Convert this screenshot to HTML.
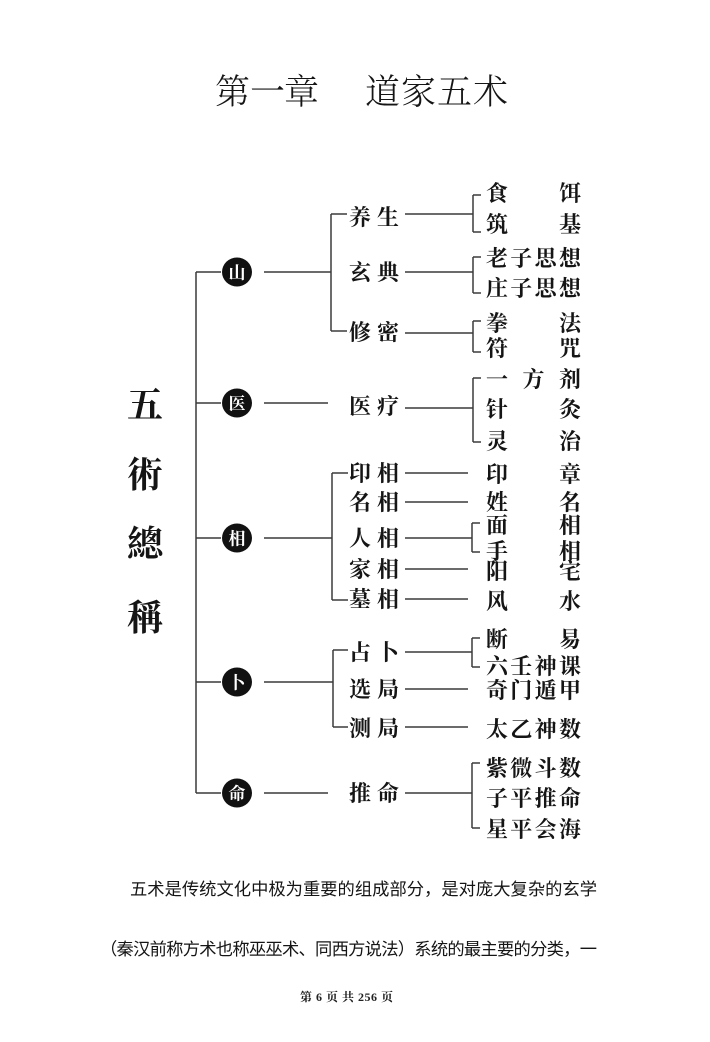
<!DOCTYPE html>
<html><head><meta charset="utf-8"><style>
html,body{margin:0;padding:0;background:#fff;}
svg{display:block;}
.t{font-family:"Liberation Serif","Noto Serif CJK SC",serif;fill:#151515;}
.title{font-size:35px;font-weight:300;}
.big{font-size:36px;font-weight:bold;}
.mid{font-size:22px;font-weight:bold;}
.rt{font-size:22px;font-weight:bold;}
.cir{font-size:17px;font-weight:bold;fill:#fff;}
.p{font-family:"Liberation Sans","Noto Sans CJK SC",sans-serif;font-size:17.3px;fill:#151515;}
.f{font-family:"Liberation Serif","Noto Serif CJK SC",serif;font-size:12px;font-weight:bold;fill:#222;}
line{stroke:#3a3a3a;stroke-width:1.5;}
</style></head><body>
<svg width="710" height="1042" viewBox="0 0 710 1042" xmlns="http://www.w3.org/2000/svg">
<rect width="710" height="1042" fill="#fff"/>
<!-- title -->
<g class="t title">
<text x="215" y="104">第</text><text x="250" y="104">一</text><text x="284" y="104">章</text>
<text x="365" y="104">道</text><text x="401" y="104">家</text><text x="437" y="104">五</text><text x="473" y="104">术</text>
</g>
<!-- left column -->
<g class="t big">
<text x="127" y="417">五</text><text x="127" y="487">術</text><text x="127" y="556">總</text><text x="127" y="630">稱</text>
</g>
<!-- main spine -->
<line x1="196" y1="272" x2="196" y2="793"/>
<line x1="196" y1="272" x2="221" y2="272"/>
<line x1="196" y1="403" x2="221" y2="403"/>
<line x1="196" y1="538" x2="221" y2="538"/>
<line x1="196" y1="682" x2="221" y2="682"/>
<line x1="196" y1="793" x2="221" y2="793"/>
<!-- circles -->
<g fill="#111">
<ellipse cx="237" cy="272" rx="15" ry="14.5"/>
<ellipse cx="237" cy="403" rx="15" ry="14.5"/>
<ellipse cx="237" cy="538" rx="15" ry="14.5"/>
<ellipse cx="237" cy="682" rx="15" ry="14.5"/>
<ellipse cx="237" cy="793" rx="15" ry="14.5"/>
</g>
<g class="t cir" text-anchor="middle">
<text x="237" y="278.5">山</text><text x="237" y="409.5">医</text><text x="237" y="544.5">相</text><text x="237" y="688.5">卜</text><text x="237" y="799.5">命</text>
</g>
<!-- circle to brackets -->
<line x1="264" y1="272" x2="331" y2="272"/>
<line x1="264" y1="403" x2="328" y2="403"/>
<line x1="264" y1="538" x2="332" y2="538"/>
<line x1="264" y1="682" x2="333" y2="682"/>
<line x1="264" y1="793" x2="328" y2="793"/>
<!-- mid brackets -->
<line x1="331" y1="214" x2="331" y2="331"/>
<line x1="331" y1="214" x2="347" y2="214"/>
<line x1="331" y1="331" x2="347" y2="331"/>
<line x1="332" y1="473" x2="332" y2="600"/>
<line x1="332" y1="473" x2="348" y2="473"/>
<line x1="332" y1="600" x2="348" y2="600"/>
<line x1="333" y1="650" x2="333" y2="727"/>
<line x1="333" y1="650" x2="348" y2="650"/>
<line x1="333" y1="727" x2="348" y2="727"/>
<!-- mid labels -->
<g class="t mid">
<text x="349" y="225">养</text><text x="377" y="225">生</text>
<text x="349" y="280">玄</text><text x="377" y="280">典</text>
<text x="349" y="340">修</text><text x="377" y="340">密</text>
<text x="349" y="414">医</text><text x="377" y="414">疗</text>
<text x="349" y="481">印</text><text x="377" y="481">相</text>
<text x="349" y="510">名</text><text x="377" y="510">相</text>
<text x="349" y="546">人</text><text x="377" y="546">相</text>
<text x="349" y="577">家</text><text x="377" y="577">相</text>
<text x="349" y="607">墓</text><text x="377" y="607">相</text>
<text x="349" y="660">占</text><text x="377" y="660">卜</text>
<text x="349" y="697">选</text><text x="377" y="697">局</text>
<text x="349" y="736">测</text><text x="377" y="736">局</text>
<text x="349" y="801">推</text><text x="377" y="801">命</text>
</g>
<!-- label to right lines -->
<line x1="405" y1="214" x2="473" y2="214"/>
<line x1="405" y1="272" x2="473" y2="272"/>
<line x1="405" y1="333" x2="473" y2="333"/>
<line x1="405" y1="408" x2="473" y2="408"/>
<line x1="405" y1="473" x2="468" y2="473"/>
<line x1="405" y1="502" x2="468" y2="502"/>
<line x1="405" y1="538" x2="472" y2="538"/>
<line x1="405" y1="569" x2="468" y2="569"/>
<line x1="405" y1="599" x2="468" y2="599"/>
<line x1="405" y1="652" x2="472" y2="652"/>
<line x1="405" y1="689" x2="468" y2="689"/>
<line x1="405" y1="727" x2="468" y2="727"/>
<line x1="405" y1="793" x2="472" y2="793"/>
<!-- right brackets -->
<g>
<line x1="473" y1="195" x2="473" y2="232"/><line x1="473" y1="195" x2="481" y2="195"/><line x1="473" y1="232" x2="481" y2="232"/>
<line x1="473" y1="257" x2="473" y2="293"/><line x1="473" y1="257" x2="481" y2="257"/><line x1="473" y1="293" x2="481" y2="293"/>
<line x1="473" y1="321" x2="473" y2="352"/><line x1="473" y1="321" x2="481" y2="321"/><line x1="473" y1="352" x2="481" y2="352"/>
<line x1="473" y1="378" x2="473" y2="442"/><line x1="473" y1="378" x2="481" y2="378"/><line x1="473" y1="442" x2="481" y2="442"/>
<line x1="472" y1="523" x2="472" y2="552"/><line x1="472" y1="523" x2="480" y2="523"/><line x1="472" y1="552" x2="480" y2="552"/>
<line x1="472" y1="638" x2="472" y2="667"/><line x1="472" y1="638" x2="480" y2="638"/><line x1="472" y1="667" x2="480" y2="667"/>
<line x1="472" y1="763" x2="472" y2="828"/><line x1="472" y1="763" x2="480" y2="763"/><line x1="472" y1="828" x2="480" y2="828"/>
</g>
<!-- right items -->
<g class="t rt">
<text x="486" y="201">食</text><text x="559" y="201">饵</text>
<text x="486" y="232">筑</text><text x="559" y="232">基</text>
<text x="486" y="266">老</text><text x="510.3" y="266">子</text><text x="534.6" y="266">思</text><text x="559" y="266">想</text>
<text x="486" y="296">庄</text><text x="510.3" y="296">子</text><text x="534.6" y="296">思</text><text x="559" y="296">想</text>
<text x="486" y="331">拳</text><text x="559" y="331">法</text>
<text x="486" y="356">符</text><text x="559" y="356">咒</text>
<text x="486" y="387">一</text><text x="522.5" y="387">方</text><text x="559" y="387">剂</text>
<text x="486" y="417">针</text><text x="559" y="417">灸</text>
<text x="486" y="449">灵</text><text x="559" y="449">治</text>
<text x="486" y="482">印</text><text x="559" y="482">章</text>
<text x="486" y="510">姓</text><text x="559" y="510">名</text>
<text x="486" y="533">面</text><text x="559" y="533">相</text>
<text x="486" y="559">手</text><text x="559" y="559">相</text>
<text x="486" y="579">阳</text><text x="559" y="579">宅</text>
<text x="486" y="609">风</text><text x="559" y="609">水</text>
<text x="486" y="647">断</text><text x="559" y="647">易</text>
<text x="486" y="674">六</text><text x="510.3" y="674">壬</text><text x="534.6" y="674">神</text><text x="559" y="674">课</text>
<text x="486" y="698">奇</text><text x="510.3" y="698">门</text><text x="534.6" y="698">遁</text><text x="559" y="698">甲</text>
<text x="486" y="737">太</text><text x="510.3" y="737">乙</text><text x="534.6" y="737">神</text><text x="559" y="737">数</text>
<text x="486" y="776">紫</text><text x="510.3" y="776">微</text><text x="534.6" y="776">斗</text><text x="559" y="776">数</text>
<text x="486" y="806">子</text><text x="510.3" y="806">平</text><text x="534.6" y="806">推</text><text x="559" y="806">命</text>
<text x="486" y="837">星</text><text x="510.3" y="837">平</text><text x="534.6" y="837">会</text><text x="559" y="837">海</text>
</g>
<!-- paragraph -->
<text class="p" x="130" y="895" textLength="467" lengthAdjust="spacing">五术是传统文化中极为重要的组成部分，是对庞大复杂的玄学</text>
<text class="p" x="100" y="955" textLength="497" lengthAdjust="spacing">（秦汉前称方术也称巫巫术、同西方说法）系统的最主要的分类，一</text>
<text class="f" x="300" y="1001" textLength="93" lengthAdjust="spacing">第 6 页 共 256 页</text>
</svg>
</body></html>
